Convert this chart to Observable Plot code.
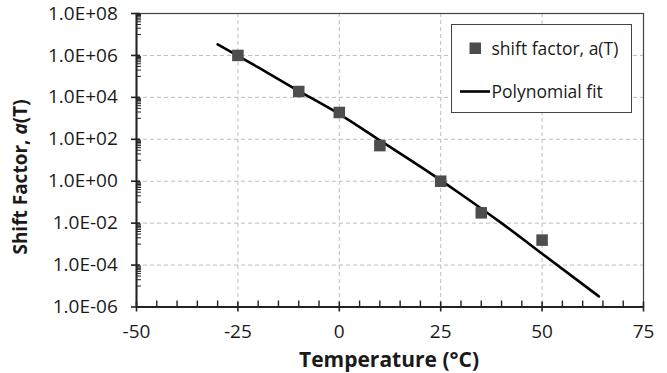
<!DOCTYPE html>
<html><head><meta charset="utf-8">
<script src="https://cdn.jsdelivr.net/npm/d3@7"></script>
<script src="https://cdn.jsdelivr.net/npm/@observablehq/plot@0.6"></script>
<style>
body{margin:0;background:#fff;}
#wrap{position:relative;width:667px;height:373px;font-family:"Open Sans",sans-serif;color:#1a1a1a;}
#legend{position:absolute;left:451px;top:24px;width:181px;height:89px;border:1px solid #444;background:#fff;box-sizing:border-box;}
#legend svg{position:absolute;left:0;top:0;}
</style></head><body><div id="wrap"></div>
<script>
// Measured data: shift factor a(T)
const tempC = [-25, -10, 0, 10, 25, 35, 50];
const shiftFactor = [1.0e6, 1.9e4, 1.9e3, 50, 1.0, 0.031, 1.55e-3];
// Polynomial fit curve
const fitTemp = [-30, -20, -10, 0, 10, 20, 30, 40, 50, 64];
const fitShift = [3.4e6, 2.7e5, 2.0e4, 1.6e3, 89, 5.0, 0.24, 0.010, 3.5e-4, 3.2e-6];
// Ticks
const xTicks = [-50, -25, 0, 25, 50, 75];
const yTicks = [1e-6, 1e-4, 1e-2, 1, 1e2, 1e4, 1e6, 1e8];
const seriesNames = ["shift factor, a(T)", "Polynomial fit"];

const xMinor = d3.range(-50, 76, 5).filter(v => v % 25 !== 0);
const yMinor = [];
for (const e of [-5, -3, -1, 1, 3, 5, 7]) for (let k = 1; k <= 9; k++) yMinor.push(k * Math.pow(10, e));

const points = tempC.map((t, i) => ({t, a: shiftFactor[i]}));
const fit = fitTemp.map((t, i) => ({t, a: fitShift[i]}));

const fmtY = v => {
  const e = Math.round(Math.log10(v));
  return "1.0E" + (e < 0 ? "-" : "+") + String(Math.abs(e)).padStart(2, "0");
};

const grid = {stroke: "#bdbdbd", strokeDasharray: "4,3", strokeWidth: 1};

const chart = Plot.plot({
  width: 667,
  height: 373,
  marginLeft: 136,
  marginRight: 24,
  marginTop: 13,
  marginBottom: 66.5,
  style: {fontFamily: "Open Sans, sans-serif", fontSize: "19px", color: "#1a1a1a", background: "#fff"},
  x: {domain: [-50, 75]},
  y: {type: "log", domain: [1e-6, 1e8]},
  marks: [
    Plot.ruleX(xTicks.slice(1, -1), grid),
    Plot.ruleY(yTicks.slice(1, -1), grid),
    Plot.frame({stroke: "#444", strokeWidth: 1.2}),
    Plot.axisX({ticks: xTicks, tickSize: 5, tickPadding: 12, tickFormat: d => String(d), label: null, strokeWidth: 1.6, stroke: "#222", fontSize: 19}),
    Plot.axisX({ticks: xTicks, tickSize: 5, dy: -5, tickFormat: () => "", label: null, strokeWidth: 1.6, stroke: "#222"}),
    Plot.axisX({ticks: xMinor, tickSize: 6, dy: -6, tickFormat: () => "", label: null, strokeWidth: 1.4, stroke: "#222"}),
    Plot.axisY({ticks: yTicks, tickSize: 5, tickPadding: 13.7, tickFormat: fmtY, label: null, strokeWidth: 1.6, stroke: "#222", fontSize: 19}),
    Plot.axisY({ticks: yTicks, tickSize: 4, dx: 4, tickFormat: () => "", label: null, strokeWidth: 1.6, stroke: "#222"}),
    Plot.axisY({ticks: yMinor, tickSize: 5, dx: 5, tickFormat: () => "", label: null, strokeWidth: 1, stroke: "#222"}),
    Plot.ruleX([-50], {stroke: "#222", strokeWidth: 2}),
    Plot.ruleY([1e-6], {stroke: "#222", strokeWidth: 2}),
    Plot.line(fit, {x: "t", y: "a", stroke: "#000", strokeWidth: 2.6, curve: "natural"}),
    Plot.dot(points, {x: "t", y: "a", symbol: "square", r: 6.5, fill: "#4d4d4d", stroke: "none"})
  ]
});

const wrap = document.getElementById("wrap");
wrap.appendChild(chart);

const svg = d3.select(chart);
svg.selectAll('g[aria-label$="tick label"]').attr("fill", "#1a1a1a");
svg.append("text")
  .attr("x", 389).attr("y", 366.5)
  .attr("text-anchor", "middle")
  .style("font-family", "Open Sans, sans-serif")
  .style("font-size", "21px").style("font-weight", "bold").style("fill", "#1a1a1a")
  .text("Temperature (°C)");
const yt = svg.append("text")
  .attr("transform", "translate(27,177) rotate(-90)")
  .attr("text-anchor", "middle")
  .style("font-family", "Open Sans, sans-serif")
  .style("font-size", "19px").style("font-weight", "bold").style("fill", "#1a1a1a");
yt.append("tspan").text("Shift Factor, ");
yt.append("tspan").style("font-style", "italic").text("a");
yt.append("tspan").text("(T)");

// Legend
const leg = document.createElement("div");
leg.id = "legend";
wrap.appendChild(leg);
const ls = d3.select(leg).append("svg").attr("width", 181).attr("height", 89);
ls.append("rect").attr("x", 17.5).attr("y", 17.5).attr("width", 11.5).attr("height", 11.5).attr("fill", "#4d4d4d");
ls.append("line").attr("x1", 8).attr("x2", 38).attr("y1", 66.5).attr("y2", 66.5).attr("stroke", "#000").attr("stroke-width", 2.6);
ls.selectAll("text.l").data(seriesNames).join("text")
  .attr("x", 39.5).attr("y", (d, i) => i === 0 ? 29.5 : 72.5)
  .style("font-family", "Open Sans, sans-serif").style("font-size", "17.5px").style("fill", "#1a1a1a")
  .text(d => d);
</script>
</body></html>
